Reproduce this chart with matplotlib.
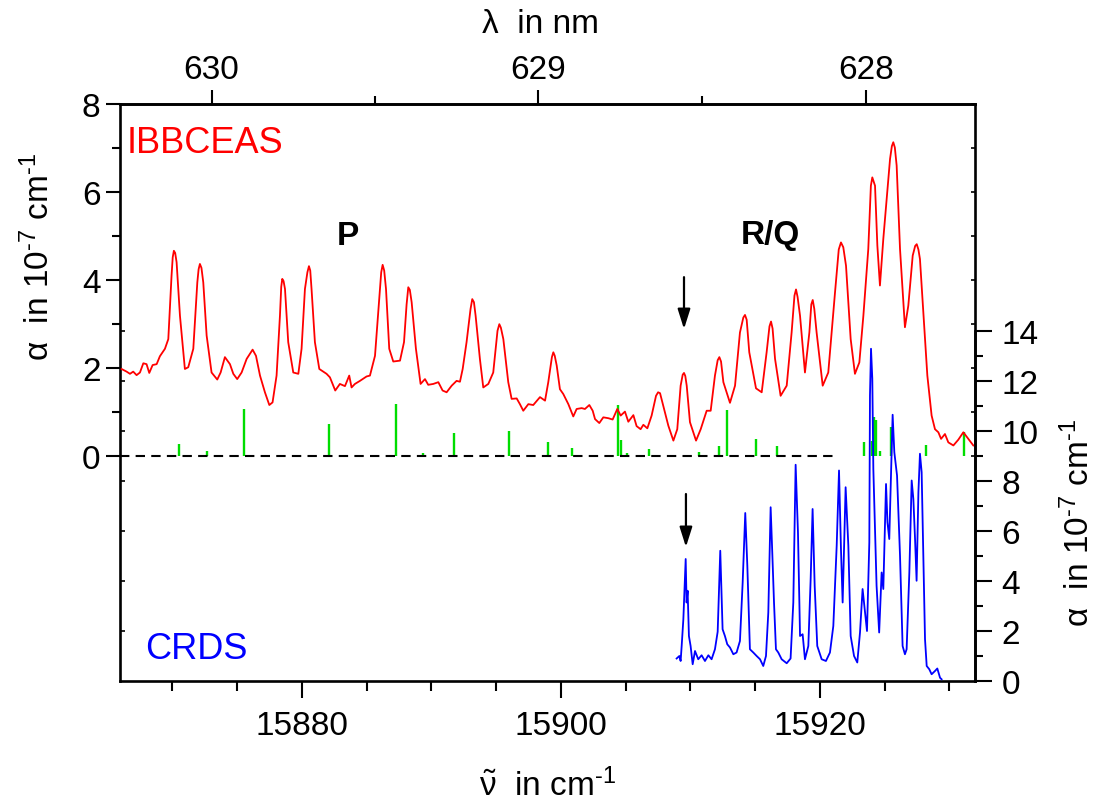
import numpy as np
import matplotlib
matplotlib.use("Agg")
import matplotlib.pyplot as plt
from matplotlib.ticker import FixedLocator, MultipleLocator

plt.rcParams['font.family'] = ['Liberation Sans', 'DejaVu Sans']
plt.rcParams['mathtext.fontset'] = 'custom'
plt.rcParams['mathtext.rm'] = 'Liberation Sans'
plt.rcParams['mathtext.it'] = 'Liberation Sans:italic'
plt.rcParams['mathtext.default'] = 'regular'

# ---------------- data ----------------
# IBBCEAS spectrum (wavenumber in cm-1, alpha in 1e-7 cm-1)
ibb_nu = [15866.07, 15866.46, 15866.72, 15866.97, 15867.23, 15867.49, 15867.75, 15868.00, 15868.21, 15868.47,
          15868.78, 15869.03, 15869.42, 15869.68, 15869.93, 15870.02, 15870.11, 15870.21, 15870.32, 15870.58,
          15870.96, 15871.22, 15871.61, 15871.92, 15872.02, 15872.12, 15872.24, 15872.38, 15872.64, 15873.02,
          15873.46, 15873.72, 15874.05, 15874.44, 15874.70, 15875.00, 15875.34, 15875.73, 15876.19, 15876.45,
          15876.76, 15877.14, 15877.48, 15877.73, 15878.04, 15878.30, 15878.40, 15878.48, 15878.58, 15878.69,
          15878.94, 15879.33, 15879.72, 15879.97, 15880.23, 15880.42, 15880.54, 15880.64, 15880.74, 15881.00,
          15881.34, 15881.90, 15882.16, 15882.57, 15882.93, 15883.32, 15883.65, 15883.83, 15884.09, 15884.48,
          15884.99, 15885.25, 15885.64, 15885.97, 15886.12, 15886.23, 15886.35, 15886.49, 15886.74, 15887.05,
          15887.57, 15887.88, 15888.08, 15888.21, 15888.33, 15888.47, 15888.80, 15889.16, 15889.50, 15889.75,
          15890.14, 15890.53, 15890.86, 15891.17, 15891.56, 15891.94, 15892.20, 15892.41, 15892.71, 15893.02,
          15893.15, 15893.28, 15893.41, 15893.74, 15894.00, 15894.39, 15894.77, 15895.10, 15895.24, 15895.36,
          15895.55, 15895.93, 15896.19, 15896.58, 15896.83, 15897.09, 15897.48, 15897.86, 15898.38, 15898.77,
          15899.02, 15899.30, 15899.41, 15899.52, 15899.67, 15899.92, 15900.18, 15900.57, 15900.95, 15901.21,
          15901.60, 15901.85, 15902.19, 15902.45, 15902.63, 15902.96, 15903.27, 15903.66, 15903.99, 15904.35,
          15904.61, 15904.94, 15905.20, 15905.59, 15905.84, 15906.15, 15906.36, 15906.67, 15907.00, 15907.34,
          15907.50, 15907.65, 15908.03, 15908.29, 15908.68, 15908.98, 15909.24, 15909.40, 15909.50, 15909.60,
          15909.71, 15909.96, 15910.43, 15910.79, 15911.25, 15911.56, 15911.89, 15912.10, 15912.23, 15912.36,
          15912.54, 15913.05, 15913.44, 15913.82, 15914.08, 15914.21, 15914.34, 15914.54, 15915.06, 15915.50,
          15915.88, 15916.10, 15916.22, 15916.34, 15916.53, 15916.96, 15917.43, 15917.81, 15918.03, 15918.15,
          15918.27, 15918.46, 15918.84, 15919.18, 15919.33, 15919.44, 15919.56, 15919.74, 15920.21, 15920.64,
          15921.16, 15921.45, 15921.62, 15921.80, 15922.01, 15922.37, 15922.70, 15923.04, 15923.35, 15923.73,
          15923.93, 15924.04, 15924.25, 15924.43, 15924.63, 15924.89, 15925.15, 15925.41, 15925.55, 15925.66,
          15925.78, 15925.92, 15926.18, 15926.56, 15926.82, 15927.16, 15927.35, 15927.47, 15927.60, 15927.72,
          15927.98, 15928.29, 15928.62, 15928.88, 15929.14, 15929.35, 15929.65, 15929.91, 15930.30, 15930.68,
          15931.07, 15931.46, 15931.84]
ibb_alpha = [1.98, 1.92, 1.87, 1.92, 1.84, 1.90, 2.11, 2.09, 1.89, 2.07,
             2.09, 2.27, 2.44, 2.66, 4.10, 4.52, 4.67, 4.62, 4.41, 3.19,
             1.98, 2.02, 2.44, 3.95, 4.25, 4.37, 4.28, 3.95, 2.74, 1.90,
             1.74, 1.90, 2.25, 2.09, 1.87, 1.75, 1.90, 2.21, 2.42, 2.28,
             1.83, 1.45, 1.16, 1.22, 1.83, 3.19, 3.85, 4.03, 3.98, 3.80,
             2.59, 1.90, 1.87, 2.44, 3.80, 4.18, 4.32, 4.22, 3.80, 2.59,
             1.98, 1.87, 1.79, 1.49, 1.64, 1.59, 1.83, 1.56, 1.64, 1.71,
             1.81, 1.83, 2.28, 3.57, 4.18, 4.35, 4.22, 3.80, 2.44, 2.15,
             2.17, 2.59, 3.45, 3.84, 3.78, 3.50, 2.44, 1.64, 1.75, 1.62,
             1.64, 1.68, 1.49, 1.45, 1.60, 1.71, 1.69, 1.98, 2.59, 3.35,
             3.57, 3.50, 3.19, 2.21, 1.56, 1.64, 1.90, 2.85, 3.00, 2.92,
             2.66, 1.68, 1.30, 1.31, 1.18, 1.03, 1.18, 1.16, 1.34, 1.26,
             1.68, 2.25, 2.36, 2.28, 2.06, 1.52, 1.41, 1.18, 0.90, 1.07,
             1.09, 1.07, 1.16, 1.03, 0.84, 0.75, 0.88, 0.86, 0.83, 1.07,
             0.92, 1.01, 0.78, 0.93, 0.68, 0.61, 0.71, 0.63, 0.92, 1.37,
             1.45, 1.43, 0.99, 0.69, 0.35, 0.61, 1.60, 1.85, 1.89, 1.82,
             1.60, 0.77, 0.35, 0.61, 1.03, 1.03, 1.83, 2.18, 2.25, 2.15,
             1.68, 1.21, 1.60, 2.81, 3.15, 3.21, 3.10, 2.36, 1.54, 1.45,
             2.36, 2.95, 3.06, 2.90, 2.21, 1.37, 1.60, 2.81, 3.65, 3.79,
             3.62, 3.19, 1.90, 2.81, 3.45, 3.55, 3.35, 2.81, 1.60, 1.90,
             3.72, 4.70, 4.86, 4.75, 4.33, 2.66, 1.87, 2.13, 3.19, 4.71,
             6.15, 6.34, 6.15, 4.79, 3.88, 4.94, 5.85, 6.76, 7.05, 7.14,
             7.02, 6.61, 4.71, 2.93, 3.42, 4.56, 4.78, 4.82, 4.70, 4.48,
             3.27, 1.83, 0.92, 0.61, 0.54, 0.39, 0.50, 0.31, 0.24, 0.37,
             0.54, 0.39, 0.24]

# CRDS spectrum (right axis, alpha in 1e-7 cm-1)
crds_nu = [15908.93, 15909.14, 15909.24, 15909.32, 15909.45, 15909.63, 15909.70, 15909.78, 15909.88, 15910.01,
           15910.17, 15910.35, 15910.60, 15910.86, 15911.12, 15911.38, 15911.63, 15911.89, 15912.10, 15912.30,
           15912.48, 15912.66, 15912.84, 15913.05, 15913.31, 15913.56, 15913.82, 15914.03, 15914.23, 15914.39,
           15914.59, 15914.85, 15915.11, 15915.37, 15915.62, 15915.83, 15916.01, 15916.19, 15916.32, 15916.45,
           15916.60, 15916.78, 15917.04, 15917.43, 15917.73, 15917.94, 15918.12, 15918.30, 15918.46, 15918.66,
           15918.84, 15919.10, 15919.28, 15919.43, 15919.59, 15919.79, 15920.13, 15920.46, 15920.77, 15921.03,
           15921.29, 15921.47, 15921.62, 15921.75, 15921.98, 15922.19, 15922.37, 15922.63, 15922.88, 15923.09,
           15923.29, 15923.48, 15923.63, 15923.81, 15923.86, 15923.94, 15924.04, 15924.12, 15924.37, 15924.57,
           15924.76, 15924.89, 15925.10, 15925.21, 15925.35, 15925.61, 15925.74, 15925.95, 15926.18, 15926.38,
           15926.56, 15926.69, 15926.90, 15927.08, 15927.21, 15927.34, 15927.46, 15927.60, 15927.72, 15927.85,
           15927.98, 15928.11, 15928.24, 15928.44, 15928.62, 15928.88, 15929.06, 15929.27, 15929.39]
crds_alpha = [0.90, 1.00, 0.80, 1.40, 2.47, 4.88, 3.14, 3.61, 1.80, 1.40,
              0.67, 1.20, 0.87, 1.03, 0.80, 1.03, 0.87, 1.27, 1.97, 5.21,
              2.07, 1.80, 1.47, 1.34, 1.07, 1.14, 1.60, 3.94, 6.72, 4.61,
              1.27, 1.14, 1.00, 0.87, 0.60, 1.00, 2.74, 6.95, 5.08, 3.14,
              1.27, 1.14, 0.87, 0.71, 0.90, 3.14, 8.65, 5.95, 1.80, 1.87,
              0.87, 1.40, 4.08, 6.88, 3.81, 1.40, 0.87, 0.80, 1.14, 2.20,
              5.41, 8.42, 5.28, 3.14, 7.75, 5.41, 1.80, 1.00, 0.74, 1.94,
              3.68, 2.74, 2.00, 5.55, 11.42, 13.29, 12.09, 8.48, 3.81, 1.94,
              4.34, 3.68, 7.88, 6.35, 5.68, 10.65, 9.15, 8.22, 5.01, 1.40,
              1.07, 1.27, 4.34, 8.02, 7.28, 5.68, 4.01, 7.55, 9.09, 8.35,
              5.01, 1.67, 0.60, 0.47, 0.27, 0.40, 0.50, 0.13, 0.07]

# simulated line positions (green sticks)
stick_nu = [15870.53, 15872.69, 15875.52, 15882.11, 15887.26, 15889.37, 15891.74, 15896.01, 15899.02, 15900.88,
            15904.43, 15904.61, 15905.12, 15906.82, 15910.66, 15912.20, 15912.85, 15915.08, 15916.69, 15923.40,
            15923.99, 15924.19, 15924.32, 15924.63, 15925.47, 15928.21, 15931.13]
stick_h = [0.265, 0.114, 1.077, 0.735, 1.176, 0.068, 0.531, 0.569, 0.31, 0.19,
           1.153, 0.356, 0.076, 0.167, 0.09, 0.228, 1.054, 0.394, 0.228, 0.32,
           0.34, 0.89, 0.82, 0.11, 0.66, 0.25, 0.546]

baseline_end = 15921.4          # end of dashed zero line (cm-1)
arrow1_nu, arrow1_y = 15909.50, (4.07, 2.89)
arrow2_nu, arrow2_y = 15909.65, (-0.865, -2.07)

nu_lim = (15865.95, 15931.97)
left_ylim = (-5.12, 8.01)
right_ylim = (0, 14)
left_ticks = [0, 2, 4, 6, 8]
right_ticks = [0, 2, 4, 6, 8, 10, 12, 14]
lam_ticks = [628, 629, 630]
lam_minor = [628.5, 629.5]

# ---------------- figure ----------------
W, H = 1099, 804
fig = plt.figure(figsize=(W / 100, H / 100), dpi=100)
L, R, T, B = 120, 975, 105, 682
T2 = 332
ax1 = fig.add_axes([L / W, 1 - B / H, (R - L) / W, (B - T) / H])
ax1.set_xlim(*nu_lim)
ax1.set_ylim(*left_ylim)

SPW = 1.9
for s in ax1.spines.values():
    s.set_linewidth(SPW)

ax1.vlines(stick_nu, 0, stick_h, colors='#00dd00', linewidth=1.7, zorder=2)
ax1.plot([nu_lim[0], baseline_end], [0, 0], color='black', lw=1.5,
         linestyle=(0, (4.5, 3)), zorder=2)
ax1.plot(ibb_nu, ibb_alpha, color='#ff0000', lw=1.3, zorder=3,
         solid_joinstyle='round')

ax1.xaxis.set_major_locator(MultipleLocator(20))
ax1.xaxis.set_minor_locator(MultipleLocator(5))
ax1.tick_params(axis='x', which='major', direction='out', length=12, width=1.5,
                pad=9, labelsize=24, top=False)
ax1.tick_params(axis='x', which='minor', direction='out', length=7, width=1.5, top=False)
ax1.yaxis.set_major_locator(FixedLocator(left_ticks))
ax1.yaxis.set_minor_locator(FixedLocator([1, 3, 5, 7]))
ax1.tick_params(axis='y', which='major', direction='out', length=10, width=1.5,
                pad=4, labelsize=24, right=False)
ax1.tick_params(axis='y', which='minor', direction='out', length=5.5, width=1.5, right=False)

# small inner ticks on right side of upper layer
ax1r = ax1.twinx()
ax1r.set_ylim(*left_ylim)
ax1r.yaxis.set_major_locator(FixedLocator(list(range(0, 9))))
ax1r.tick_params(axis='y', direction='in', length=3, width=1.2, labelright=False)
for s in ax1r.spines.values():
    s.set_visible(False)

# top wavelength axis
secax = ax1.secondary_xaxis('top', functions=(lambda n: 1e7 / np.asarray(n, float),
                                              lambda l: 1e7 / np.asarray(l, float)))
secax.xaxis.set_major_locator(FixedLocator(lam_ticks))
secax.xaxis.set_minor_locator(FixedLocator(lam_minor))
secax.tick_params(which='major', direction='out', length=10, width=1.5, labelsize=24, pad=4)
secax.tick_params(which='minor', direction='out', length=6, width=1.5)
secax.spines['top'].set_linewidth(SPW)

# lower layer (CRDS)
pos2 = [L / W, 1 - B / H, (R - L) / W, (B - T2) / H]
ax2 = fig.add_axes(pos2)
ax2.patch.set_visible(False)
ax2.set_xlim(*nu_lim)
ax2.set_ylim(*right_ylim)
ax2.plot(crds_nu, crds_alpha, color='#0000ff', lw=1.3, solid_joinstyle='round')
for k in ('top', 'bottom', 'left'):
    ax2.spines[k].set_visible(False)
ax2.spines['right'].set_linewidth(SPW)
ax2.tick_params(axis='x', bottom=False, labelbottom=False)
ax2.yaxis.set_major_locator(FixedLocator(right_ticks))
ax2.yaxis.set_minor_locator(FixedLocator(list(range(1, 14, 2))))
ax2.tick_params(axis='y', which='major', direction='out', length=12, width=1.5, pad=7,
                labelsize=24, left=False, labelleft=False, right=True, labelright=True)
ax2.tick_params(axis='y', which='minor', direction='out', length=6, width=1.5,
                left=False, right=True)

ax2l = fig.add_axes(pos2, frameon=False)
ax2l.set_xlim(*nu_lim)
ax2l.set_ylim(*right_ylim)
ax2l.yaxis.set_major_locator(FixedLocator(right_ticks[1:]))
ax2l.tick_params(axis='y', direction='in', length=3.5, width=1.2, labelleft=False)
ax2l.tick_params(axis='x', bottom=False, labelbottom=False)

# arrows
ap = dict(arrowstyle='-|>,head_length=0.6,head_width=0.19', mutation_scale=20,
          lw=1.6, color='black', shrinkA=0, shrinkB=0)
ax1.annotate('', xy=(arrow1_nu, arrow1_y[1]), xytext=(arrow1_nu, arrow1_y[0]), arrowprops=ap)
ax1.annotate('', xy=(arrow2_nu, arrow2_y[1]), xytext=(arrow2_nu, arrow2_y[0]), arrowprops=ap)

# texts
fig.text(127 / W, 1 - 153 / H, 'IBBCEAS', color='#ff0000', fontsize=26, va='baseline', ha='left')
fig.text(145 / W, 1 - 659 / H, 'CRDS', color='#0000ff', fontsize=26, va='baseline', ha='left')
fig.text(337 / W, 1 - 245 / H, 'P', fontsize=24, fontweight='bold', va='baseline', ha='left')
fig.text(741 / W, 1 - 244 / H, 'R/Q', fontsize=24, fontweight='bold', va='baseline', ha='left')

HY = '\u2010'
fig.text(541 / W, 1 - 33 / H, 'λ  in nm', fontsize=24, ha='center', va='baseline')
fig.text(547 / W, 1 - 796 / H, r'$\tilde{\nu}$  in cm$^{' + HY + '1}$', fontsize=24,
         ha='center', va='baseline')
fig.text(39 / W, 1 - 257 / H, r'α  in 10$^{' + HY + '7}$ cm$^{' + HY + '1}$', fontsize=24,
         rotation=90, ha='center', va='center')
fig.text(1079 / W, 1 - 523 / H, r'α  in 10$^{' + HY + '7}$ cm$^{' + HY + '1}$', fontsize=24,
         rotation=90, ha='center', va='center')

fig.savefig('out.png', dpi=100)
